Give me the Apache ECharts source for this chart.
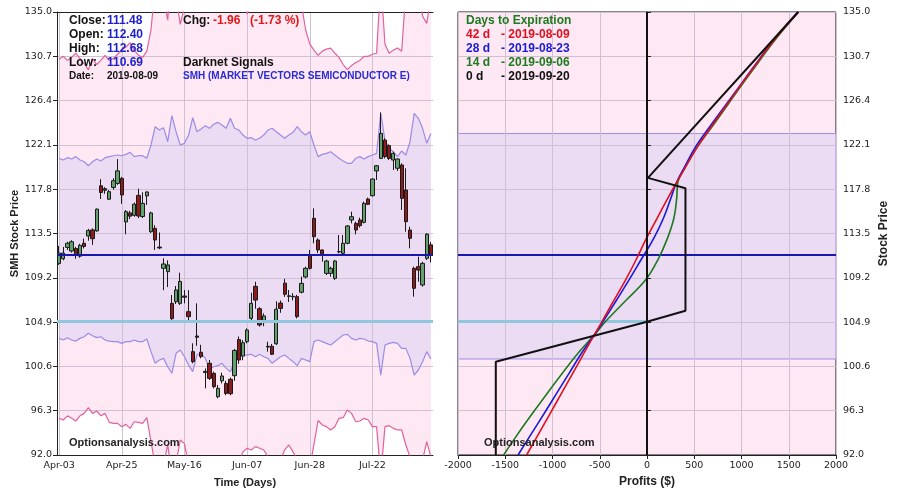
<!DOCTYPE html>
<html><head><meta charset="utf-8">
<script src="https://cdn.jsdelivr.net/npm/echarts@6/dist/echarts.min.js"></script>
<style>html,body{margin:0;padding:0;background:#fff}#c{width:900px;height:496px}</style>
</head><body><div id="c"></div>
<script>
// ---------- data ----------
const dates = ['2019-04-03','2019-04-04','2019-04-05','2019-04-08','2019-04-09','2019-04-10','2019-04-11','2019-04-12','2019-04-15','2019-04-16','2019-04-17','2019-04-18','2019-04-22','2019-04-23','2019-04-24','2019-04-25','2019-04-26','2019-04-29','2019-04-30',
'2019-05-01','2019-05-02','2019-05-03','2019-05-06','2019-05-07','2019-05-08','2019-05-09','2019-05-10','2019-05-13','2019-05-14','2019-05-15','2019-05-16','2019-05-17','2019-05-20','2019-05-21','2019-05-22','2019-05-23','2019-05-24','2019-05-28','2019-05-29','2019-05-30','2019-05-31',
'2019-06-03','2019-06-04','2019-06-05','2019-06-06','2019-06-07','2019-06-10','2019-06-11','2019-06-12','2019-06-13','2019-06-14','2019-06-17','2019-06-18','2019-06-19','2019-06-20','2019-06-21','2019-06-24','2019-06-25','2019-06-26','2019-06-27','2019-06-28',
'2019-07-01','2019-07-02','2019-07-03','2019-07-05','2019-07-08','2019-07-09','2019-07-10','2019-07-11','2019-07-12','2019-07-15','2019-07-16','2019-07-17','2019-07-18','2019-07-19','2019-07-22','2019-07-23','2019-07-24','2019-07-25','2019-07-26','2019-07-29','2019-07-30','2019-07-31',
'2019-08-01','2019-08-02','2019-08-05','2019-08-06','2019-08-07','2019-08-08','2019-08-09'];

const opens = [110.6,111.05,112.15,111.8,112.05,111.3,112.55,113.25,113.85,113.75,118.13,117.85,116.83,117.97,118.36,118.85,114.62,115.5,115.26,117.2,
115.15,117.15,113.68,114.0,112.18,110.12,109.8,106.72,106.88,106.72,107.43,105.91,102.03,103.55,101.97,100.0,100.9,99.93,97.66,99.2,
98.95,99.35,99.7,103.2,101.6,103.0,105.26,108.37,106.2,104.85,102.55,102.55,102.8,106.75,108.68,107.45,107.4,107.37,107.8,109.28,
111.41,114.97,112.87,111.9,109.63,109.63,109.15,111.7,111.57,112.55,114.81,114.48,114.81,114.58,116.85,117.17,119.57,120.79,122.57,122.03,
120.63,119.83,120.15,117.72,113.84,110.12,110.28,108.5,111.09,112.40];
const closes = [111.6,111.6,112.55,112.7,111.4,112.35,112.25,113.8,113.0,115.87,117.48,117.7,117.56,118.62,119.58,117.24,115.62,115.18,116.35,115.2,
116.42,117.53,115.5,112.87,112.1,110.54,110.45,105.24,108.02,108.85,107.32,105.43,101.06,103.43,101.55,100.12,99.44,98.63,98.47,99.67,
97.98,97.95,102.15,101.22,102.9,104.13,106.72,107.04,104.62,105.5,102.48,101.78,106.15,106.23,107.6,107.4,107.35,105.43,108.66,110.12,
110.12,113.19,111.9,111.48,110.83,110.12,110.83,111.76,112.55,114.23,115.13,113.84,114.26,116.43,116.33,118.79,120.08,123.22,120.96,120.79,
121.28,120.73,116.91,114.65,113.03,108.18,109.95,110.6,113.44,111.48];
const lows = [110.45,110.9,111.9,111.65,111.05,111.15,112.05,112.8,112.4,113.68,116.85,117.35,116.75,117.75,118.22,116.38,113.43,114.9,115.13,115.0,
115.0,116.27,113.55,111.9,111.98,108.0,108.3,104.94,106.65,106.56,106.72,105.05,100.9,102.6,101.38,98.47,99.28,98.47,97.5,98.95,
97.8,97.8,99.2,100.85,101.2,102.84,105.1,106.2,104.46,104.5,102.03,101.7,102.68,105.8,107.35,106.85,107.0,105.26,107.69,109.15,
110.0,112.55,111.6,110.77,109.47,109.31,108.99,111.57,111.48,112.45,114.48,113.42,114.07,114.48,116.26,117.08,118.69,120.73,120.79,120.63,
119.66,119.57,115.78,113.68,112.06,107.37,108.82,108.34,110.93,110.69];
const highs = [112.3,112.2,112.7,112.85,112.2,112.5,113.0,113.95,114.0,115.92,118.78,118.0,117.72,118.87,120.72,119.0,115.78,115.7,116.5,117.85,
117.5,117.6,115.62,114.3,113.6,111.1,110.9,107.53,108.4,109.7,108.02,108.0,102.84,106.72,102.7,100.4,101.22,100.09,98.8,99.99,
99.2,99.5,102.3,103.5,103.15,104.3,107.75,108.82,106.35,105.75,103.0,102.78,106.92,107.0,109.1,108.02,107.7,107.55,109.31,110.28,
111.9,115.94,113.03,111.95,110.95,110.28,110.93,113.35,113.35,114.32,115.62,114.65,115.04,116.59,116.98,118.85,120.15,125.26,122.74,122.15,
121.44,120.79,120.31,119.83,114.16,110.28,111.25,110.77,113.52,112.68];

const upperPurple = [120.8,120.63,120.86,120.73,120.96,120.63,120.47,120.08,120.47,120.73,120.54,120.86,120.96,121.05,121.12,121.05,121.18,121.38,120.96,121.05,
121.05,120.8,122.09,123.87,123.55,123.77,122.41,124.94,123.38,122.09,122.25,123.06,124.74,123.38,123.64,123.97,123.71,124.1,124.29,124.03,
123.71,124.68,123.71,123.55,123.06,122.74,122.8,122.57,122.74,123.06,123.55,123.71,123.38,123.06,122.74,123.06,123.32,123.87,123.38,123.06,
123.38,122.09,120.96,121.18,121.28,121.44,121.12,120.8,120.54,120.31,120.31,120.8,120.96,120.73,120.96,121.12,121.28,125.16,122.57,121.77,
121.44,120.96,121.51,121.12,122.41,125.16,124.68,123.71,122.25,123.2];
const lowerPurple = [103.32,103.16,103.39,103.16,103.06,103.32,103.48,103.81,103.58,103.39,103.48,103.16,103.06,103.0,103.0,102.84,103.0,103.0,103.16,103.0,
103.0,103.26,102.03,100.9,101.22,101.38,100.57,99.93,101.87,102.19,101.54,100.73,100.09,101.71,101.87,101.38,100.34,100.57,100.67,100.9,
100.41,100.09,101.06,101.54,101.7,101.71,101.77,101.54,101.77,101.54,101.38,100.9,101.22,101.54,101.71,101.38,101.06,100.67,101.38,101.22,
101.06,103.0,103.16,103.0,102.84,102.68,103.0,103.32,103.65,103.71,103.32,103.16,103.32,103.26,103.06,103.0,102.84,99.76,102.68,102.84,
102.94,102.84,102.35,102.35,101.38,99.76,100.25,101.06,102.03,101.32];
const upperPink = [130.4,130.7,130.3,130.6,131.0,130.5,130.0,129.4,130.5,129.9,130.3,130.8,130.3,130.5,130.9,131.3,131.6,132.0,131.3,130.8,
130.6,131.2,133.3,137.5,138.5,136.5,134.2,139.5,136.5,133.8,135.5,138.5,141.0,139.0,139.0,139.5,140.0,140.0,140.5,140.0,
139.5,141.0,139.5,139.0,138.5,134.8,135.8,138.0,138.0,138.5,139.0,140.0,139.0,138.5,138.0,138.5,139.0,139.5,135.8,133.3,
131.9,131.3,130.8,131.2,131.4,131.5,131.0,130.6,129.9,129.4,129.8,130.1,130.3,130.7,130.7,130.9,131.0,138.0,131.9,131.0,
131.3,131.5,131.2,137.0,139.0,140.0,138.0,134.6,133.9,136.5];
const lowerPink = [95.56,95.4,95.8,95.56,95.3,95.8,96.04,96.59,96.04,96.27,95.8,96.04,95.17,95.07,95.07,94.75,94.97,94.59,95.23,95.17,
95.07,95.62,93.3,91.0,90.5,91.0,93.0,90.0,91.2,93.45,93.1,91.0,89.5,90.5,90.5,90.8,89.5,90.0,90.0,90.3,
89.8,89.5,90.2,91.2,92.3,92.65,92.48,92.81,92.65,92.48,91.8,91.0,90.8,91.5,92.5,92.97,92.3,91.5,91.2,91.0,
90.8,93.0,95.35,94.91,94.75,94.43,94.75,95.56,95.62,96.37,96.04,95.23,95.3,95.56,95.4,94.75,94.75,90.0,94.75,94.85,
94.59,94.43,94.43,92.97,91.8,91.0,91.2,91.5,93.29,91.8];

const breakeven = 104.94;
const bandTop = 123.2;
const bandBottom = 101.32;

const payPrices = [92,94,96,98,100,102,103.65,105,107,109,111,113,115,117,118.4,120,122,124,126,128,130,132,135];
const pnl42 = [-1274,-1150,-1027,-904,-782,-660,-558,-474,-350,-226,-113,-8,108,225,310,410,540,690,845,1000,1160,1320,1605];
const pnl28 = [-1365,-1228,-1090,-955,-820,-685,-558,-462,-325,-190,-60,70,175,255,310,400,520,675,835,995,1155,1315,1595];
const pnl14 = [-1517,-1370,-1215,-1055,-890,-720,-558,-434,-224,-14,118,215,285,315,325,410,540,700,855,1010,1170,1330,1600];
const expiryPrices = [92,101.06,104.94,106.0,117.9,118.9,135];
const expiryPnl = [-1600,-1600,0,407,407,10,1600];

const expDays = ['42 d','28 d','14 d','0 d'];
const expDates = ['2019-08-09','2019-08-23','2019-09-06','2019-09-20'];
const expColors = ['#e01020','#1a1ad8','#1e7a1e','#111111'];

// ---------- styling ----------
const PINK_BG = '#fde8f3';
const PURPLE_BG = '#ecdcf3';
const PURPLE_LINE = '#9c8ce4';
const PINK_LINE = '#e2619f';
const GRIDC = '#cfc0d4';
const MON = {'01':'Jan','02':'Feb','03':'Mar','04':'Apr','05':'May','06':'Jun','07':'Jul','08':'Aug','09':'Sep','10':'Oct','11':'Nov','12':'Dec'};
const tickText = {fontFamily:'DejaVu Sans', fontSize:9.5, color:'#222'};
const L = closes.length - 1;

const chart = echarts.init(document.getElementById('c'));
const pair = (xs, ys) => xs.map((v,k)=>[v, ys[k]]);

const fillSeries = (data, fill) => ({
  type:'line', xAxisIndex:0, yAxisIndex:0, data, symbol:'none', silent:true, z:1,
  lineStyle:{width:0}, areaStyle:{color:fill, opacity:1, origin:'start'}
});
const bandLine = (data, color) => ({
  type:'line', xAxisIndex:0, yAxisIndex:0, data, symbol:'none', silent:true, z:3,
  lineStyle:{width:1.2, color}
});

const g = [];
const T = (x, y, text, fill, font) => g.push({type:'text', x, y, z:100, silent:true,
  style:{text, fill, font, verticalAlign:'middle', align:'left'}});
const F12 = 'bold 12px "Liberation Sans", Arial, sans-serif';
const F10 = 'bold 10px "Liberation Sans", Arial, sans-serif';
const F11 = 'bold 11px "Liberation Sans", Arial, sans-serif';
const blueV = '#1e1ecc';
[['Close:', closes[L]], ['Open:', opens[L]], ['High:', highs[L]], ['Low:', lows[L]]].forEach((r,k)=>{
  T(69, 20.5 + k*14, r[0], '#111', F12);
  T(107, 20.5 + k*14, r[1].toFixed(2), blueV, F12);
});
T(69, 76.5, 'Date:', '#111', F10);
T(107, 76.5, dates[L], '#111', F10);
const chg = closes[L] - closes[L-1];
T(183, 20.5, 'Chg:', '#111', F12);
T(213, 20.5, chg.toFixed(2), '#e01818', F12);
T(250, 20.5, '(' + (chg / closes[L-1] * 100).toFixed(2) + ' %)', '#e01818', F12);
T(183, 62.5, 'Darknet Signals', '#111', F12);
T(183, 76.5, 'SMH (MARKET VECTORS SEMICONDUCTOR E)', '#2a2ad2', F10);
T(69, 443, 'Optionsanalysis.com', '#222', F11);
T(484, 443, 'Optionsanalysis.com', '#222', F11);
T(466, 20.5, 'Days to Expiration', '#1e7a1e', F12);
expDays.forEach((d,k)=>{
  T(466, 34.5 + k*14, d, expColors[k], F12);
  T(501, 34.5 + k*14, '- ' + expDates[k], expColors[k], F12);
});

const option = {
  animation:false,
  backgroundColor:'#fff',
  grid:[
    {left:57, top:12, width:376, height:443, show:true, backgroundColor:'#fff', borderWidth:0},
    {left:458, top:12, width:378, height:443, show:true, backgroundColor:PINK_BG, borderColor:'#111', borderWidth:1}
  ],
  xAxis:[
    {type:'category', gridIndex:0, data:dates, boundaryGap:true, z:2,
     axisLine:{lineStyle:{color:'#222'}},
     axisTick:{interval:14, alignWithLabel:true, length:4, lineStyle:{color:'#222'}},
     axisLabel:Object.assign({interval:14, margin:6, formatter:v=>MON[v.slice(5,7)]+'-'+v.slice(8)}, tickText),
     splitLine:{show:true, interval:14, alignWithLabel:true, lineStyle:{color:GRIDC, width:1}},
     name:'Time (Days)', nameLocation:'middle', nameGap:22,
     nameTextStyle:{fontFamily:'Liberation Sans', fontWeight:'bold', fontSize:11, color:'#222'}},
    {type:'category', gridIndex:0, data:dates, position:'top', z:2,
     axisLine:{lineStyle:{color:'#222'}}, axisTick:{show:false}, axisLabel:{show:false}, splitLine:{show:false}},
    {type:'value', gridIndex:1, min:-2000, max:2000, interval:500, z:2,
     axisLine:{show:true, lineStyle:{color:'#222'}},
     axisTick:{show:true, length:4, lineStyle:{color:'#222'}},
     axisLabel:Object.assign({margin:6, formatter:v=>String(v)}, tickText),
     splitLine:{show:true, lineStyle:{color:GRIDC, width:1}},
     name:'Profits ($)', nameLocation:'middle', nameGap:21,
     nameTextStyle:{fontFamily:'Liberation Sans', fontWeight:'bold', fontSize:12, color:'#222'}}
  ],
  yAxis:[
    {type:'value', gridIndex:0, min:92, max:135, interval:4.3, z:2,
     axisLine:{show:true, lineStyle:{color:'#222'}},
     axisTick:{show:true, length:4, lineStyle:{color:'#222'}},
     axisLabel:Object.assign({margin:5, formatter:v=>v.toFixed(1)}, tickText),
     splitLine:{show:true, lineStyle:{color:GRIDC, width:1}},
     name:'SMH Stock Price', nameLocation:'middle', nameGap:37, nameRotate:90,
     nameTextStyle:{fontFamily:'Liberation Sans', fontWeight:'bold', fontSize:11, color:'#222'}},
    {type:'value', gridIndex:1, position:'right', min:92, max:135, interval:4.3, z:2,
     axisLine:{show:true, lineStyle:{color:'#222'}},
     axisTick:{show:true, length:4, lineStyle:{color:'#222'}},
     axisLabel:Object.assign({margin:7, formatter:v=>v.toFixed(1)}, tickText),
     splitLine:{show:true, lineStyle:{color:GRIDC, width:1}},
     name:'Stock Price', nameLocation:'middle', nameGap:42, nameRotate:90,
     nameTextStyle:{fontFamily:'Liberation Sans', fontWeight:'bold', fontSize:12, color:'#222'}}
  ],
  series:[
    fillSeries(upperPink, PINK_BG),
    fillSeries(upperPurple, PURPLE_BG),
    fillSeries(lowerPurple, PINK_BG),
    fillSeries(lowerPink, '#ffffff'),
    bandLine(upperPink, PINK_LINE),
    bandLine(lowerPink, PINK_LINE),
    bandLine(upperPurple, PURPLE_LINE),
    bandLine(lowerPurple, PURPLE_LINE),
    {type:'candlestick', xAxisIndex:0, yAxisIndex:0, z:4, barWidth:3.8,
     data: opens.map((o,k)=>[o, closes[k], lows[k], highs[k]]),
     itemStyle:{color:'#62a06c', color0:'#8e1c1c', borderColor:'#1a1a1a', borderColor0:'#1a1a1a', borderWidth:1}},
    {type:'line', xAxisIndex:0, yAxisIndex:0, data:[], silent:true,
     markLine:{silent:true, symbol:'none', label:{show:false}, z:5,
       data:[
         {yAxis:closes[L], lineStyle:{color:'#1818b0', width:2, type:'solid'}},
         {yAxis:breakeven, lineStyle:{color:'#8fc7de', width:3, type:'solid'}}
       ]}},
    // right chart
    {type:'line', xAxisIndex:2, yAxisIndex:1, data:[], silent:true,
     markArea:{silent:true, z:1, itemStyle:{color:PURPLE_BG, borderColor:PURPLE_LINE, borderWidth:1},
       data:[[{yAxis:bandTop},{yAxis:bandBottom}]]},
     markLine:{silent:true, symbol:'none', label:{show:false}, z:2.5,
       data:[
         {yAxis:closes[L], lineStyle:{color:'#1818b0', width:2, type:'solid'}},
         [{coord:[-2000, breakeven], lineStyle:{color:'#8fc7de', width:3, type:'solid'}},{coord:[0, breakeven]}]
       ]}},
    {type:'line', xAxisIndex:2, yAxisIndex:1, data:pair(pnl14, payPrices), smooth:0.4, symbol:'none', z:3,
     lineStyle:{color:'#1e7a1e', width:1.6}},
    {type:'line', xAxisIndex:2, yAxisIndex:1, data:pair(pnl28, payPrices), smooth:0.4, symbol:'none', z:3,
     lineStyle:{color:'#1a1ad8', width:1.6}},
    {type:'line', xAxisIndex:2, yAxisIndex:1, data:pair(pnl42, payPrices), smooth:0.4, symbol:'none', z:3,
     lineStyle:{color:'#e01020', width:1.6}},
    {type:'line', xAxisIndex:2, yAxisIndex:1, data:pair(expiryPnl, expiryPrices), symbol:'none', z:3,
     lineStyle:{color:'#111', width:2},
     markLine:{silent:true, symbol:'none', label:{show:false}, z:6,
       data:[{xAxis:0, lineStyle:{color:'#111', width:2, type:'solid'}}]}}
  ],
  graphic:g
};
chart.setOption(option);
</script>
</body></html>
